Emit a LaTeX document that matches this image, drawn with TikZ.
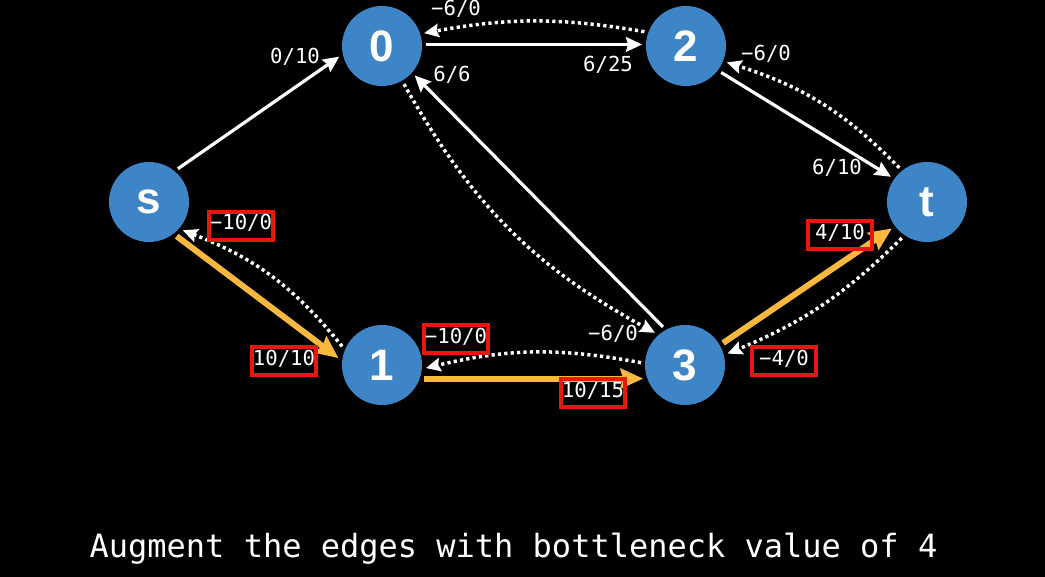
\documentclass[tikz,border=0pt]{standalone}
\usepackage{fontspec}
\setsansfont{Liberation Sans}
\setmonofont{DejaVu Sans Mono}
\usepackage{xcolor}
\usepackage{tikz}
\usetikzlibrary{arrows.meta}
\definecolor{nodeblue}{RGB}{62,133,199}
\definecolor{augorange}{RGB}{251,184,62}
\definecolor{boxred}{RGB}{232,22,12}

\begin{document}
\begin{tikzpicture}[x=0.75pt,y=-0.75pt,
    vertex/.style={circle,fill=nodeblue,text=white,minimum size=60pt,inner sep=0pt,outer sep=3pt,font=\sffamily\bfseries\fontsize{33}{33}\selectfont},
    fwd/.style={white,line width=2.4pt,-{Stealth[length=12pt,width=11pt,inset=1.5pt]}},
    back/.style={white,line width=2.6pt,dash pattern=on 2.4pt off 2.4pt,-{Stealth[length=11pt,width=10pt,inset=1.5pt]}},
    aug/.style={augorange,line width=4.5pt,-{Stealth[length=17pt,width=15pt,inset=2pt]}},
    lbl/.style={text=white,inner sep=0pt,text height=0.75em,text depth=0.15em,font=\ttfamily\fontsize{15.5}{18}\selectfont},
    boxed/.style={lbl,draw=boxred,line width=2.4pt,minimum width=48pt,minimum height=21pt}]
  \fill[black] (0,0) rectangle (1045,577);

  % vertices
  \node[vertex] (s)  at (149,202) {s};
  \node[vertex] (n0) at (382,46)  {0};
  \node[vertex] (n2) at (686,46)  {2};
  \node[vertex] (t)  at (927,202) {t};
  \node[vertex] (n1) at (382,365) {1};
  \node[vertex] (n3) at (685,365) {3};

  % upper edges
  \draw[fwd] (s.49) -- (n0.194);
  \draw[fwd] (n0.2) -- (n2.178);
  \draw[back] (n2.161) to[bend right=10] (n0.17);
  \draw[fwd] (n2.-37) -- (t.145);
  \draw[back] (t.129) to[bend right=14] (n2.-22);
  \draw[fwd] (n3.120) -- (n0.-42);
  \draw[back] (n0.-60) to[bend right=16] (n3.133);

  % augmenting path s-1-3-t
  \draw[aug] (s.-51) -- (n1.171);
  \draw[back] (n1.155) to[bend right=15] (s.-40);
  \draw[aug] (n1.-18) -- (n3.-162);
  \draw[back] (n3.177) to[bend right=12] (n1.-4);
  \draw[aug] (n3.30) -- (t.-143);
  \draw[back] (t.-125) to[bend left=11] (n3.15);

  % capacities
  \node[lbl] (l-s0) at (295,60) {0/10};
  \node[lbl] (l-02) at (608,68) {6/25};
  \node[lbl] (l-20) at (456,12) {−6/0};
  \node[lbl] (l-30) at (452,78) {6/6};
  \node[lbl] (l-t2) at (766,57) {−6/0};
  \node[lbl] (l-2t) at (837,171) {6/10};
  \node[lbl] (l-03) at (613,336) {−6/0};
  \node[boxed] (l-1s) at (241,226) {−10/0};
  \node[boxed] (l-s1) at (284,361) {10/10};
  \node[boxed] (l-31) at (456,339) {−10/0};
  \node[boxed] (l-13) at (593,393) {10/15};
  \node[boxed] (l-3t) at (840,235) {4/10};
  \node[boxed] (l-t3) at (784,361) {−4/0};

  \node[text=white,anchor=base,inner sep=0pt,font=\ttfamily\fontsize{24}{28}\selectfont] (caption) at (513.5,557) {Augment the edges with bottleneck value of 4};
\end{tikzpicture}
\end{document}
